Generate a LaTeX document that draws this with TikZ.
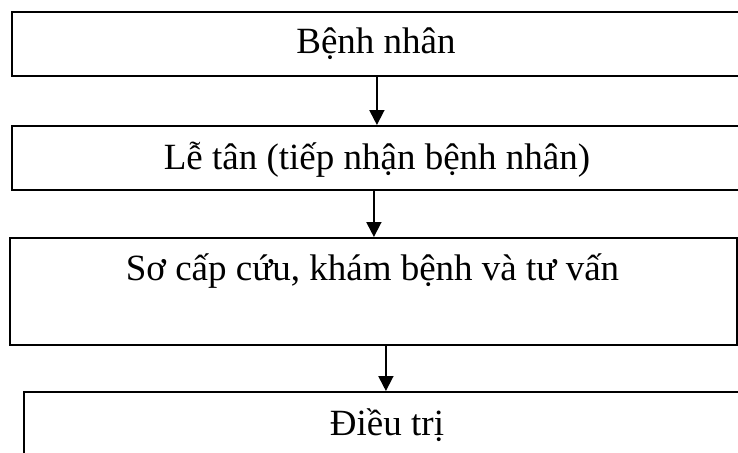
\documentclass[tikz,border=0pt]{standalone}
\usepackage{fontspec}
\setmainfont{Liberation Serif}
\usetikzlibrary{arrows.meta}
\begin{document}
\begin{tikzpicture}[x=1pt,y=-1pt,
  box/.style={draw=black,line width=1.8pt,rectangle,inner sep=0pt,anchor=north west},
  lbl/.style={inner sep=0pt,anchor=base,font=\fontsize{37}{44}\selectfont},
  arr/.style={line width=1.8pt,-{Triangle[length=15pt,width=15pt]}}]
\useasboundingbox (0,0) rectangle (738,452);
\node[box,minimum width=730pt,minimum height=64pt] (b1) at (11,11) {};
\node[box,minimum width=732pt,minimum height=64pt] (b2) at (11,125) {};
\node[box,minimum width=727pt,minimum height=107pt] (b3) at (9,237) {};
\node[box,minimum width=728pt,minimum height=90pt] (b4) at (23,391) {};
\node[lbl] (t1) at (376,54) {Bệnh nhân};
\node[lbl] (t2) at (377,169) {Lễ tân (tiếp nhận bệnh nhân)};
\node[lbl] (t3) at (372.5,280) {Sơ cấp cứu, khám bệnh và tư vấn};
\node[lbl] (t4) at (387,435) {Điều trị};
\draw[arr] (b1.south) -- (b1.south |- b2.north);
\draw[arr] ([xshift=0.5pt]b3.north |- b2.south) -- ([xshift=0.5pt]b3.north);
\draw[arr] ([xshift=-2pt]b4.north |- b3.south) -- ([xshift=-2pt]b4.north);
\end{tikzpicture}
\end{document}
